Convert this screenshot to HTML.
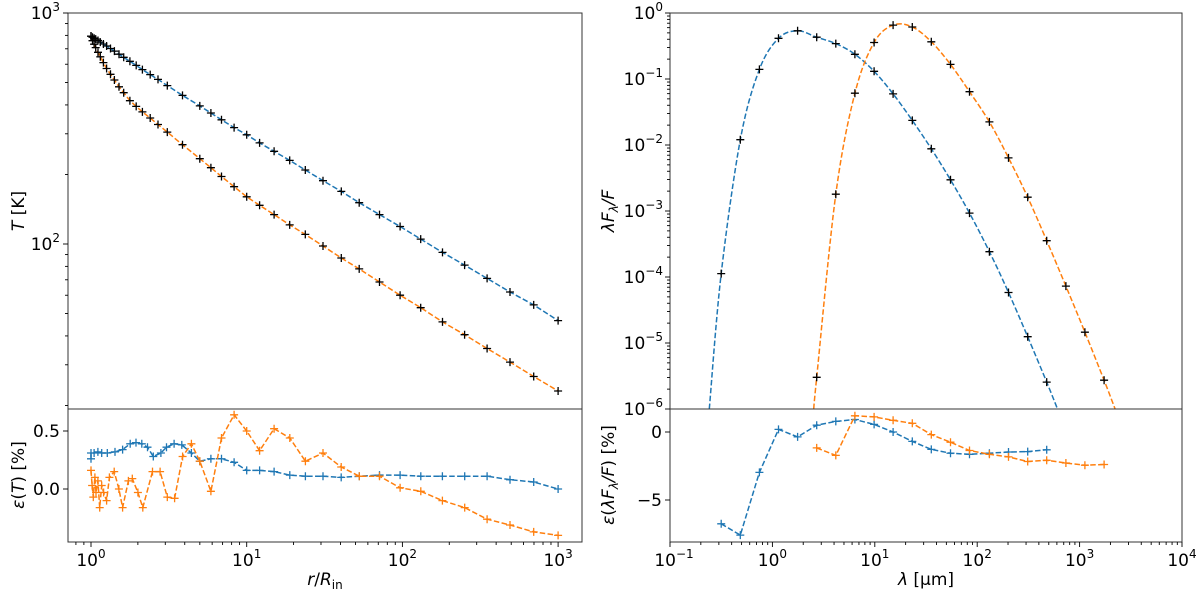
<!DOCTYPE html>
<html><head><meta charset="utf-8">
<style>
html,body{margin:0;padding:0;background:#fff;}
svg{display:block;font-family:"DejaVu Sans","Liberation Sans",sans-serif;}
</style></head>
<body>
<svg id="fig" width="1200" height="594" viewBox="0 0 1200 594" xmlns="http://www.w3.org/2000/svg"></svg>
<script>
// ---------- data: left (temperature) ----------
const rVals = [1,1.023,1.047,1.072,1.109,1.148,1.202,1.259,1.334,1.413,1.514,1.622,1.778,1.950,2.138,2.399,2.692,3.09,3.87,5.00,5.89,6.89,8.30,10,12.1,15.0,18.9,23.8,30.9,40.5,52.8,71.3,96.6,131,181,251,350,491,697,1000];
const tBlue = [794,786,778,771,760,748,734,720,702,684,663,643,618,593,569,541,516,485,440,396,369,345,319,297,274,252,230,209,188,169,151,134,119,105,92,81,71,62,54.5,46.6];
const tOrange = [794,759,733,708,676,646,610,575,543,513,479,452,417,394,373,351,329,305,269,234,214,196,177,160,147,134,121,110,98,87,78,68.5,60,53,46,40.5,35.3,30.8,26.7,23.1];
// error panel (left): log10(r) and epsilon [%]
const errBlueLogR = [0,0,0.02,0.044,0.069,0.105,0.154,0.203,0.252,0.289,0.326,0.363,0.400,0.449,0.485,0.534,0.583,0.645,0.699,0.770,0.838,0.919,1.0,1.083,1.176,1.277,1.377,1.490,1.607,1.723,1.853,1.985,2.118,2.257,2.400,2.544,2.691,2.843,3.0];
const errBlue = [0.26,0.31,0.31,0.32,0.31,0.31,0.32,0.34,0.39,0.40,0.39,0.36,0.28,0.31,0.36,0.39,0.38,0.31,0.24,0.26,0.26,0.23,0.16,0.16,0.15,0.12,0.11,0.11,0.10,0.11,0.12,0.12,0.11,0.11,0.11,0.11,0.08,0.06,0.0];
const errOrangeLogR = [0,0.007,0.015,0.025,0.032,0.044,0.056,0.069,0.081,0.100,0.118,0.149,0.179,0.203,0.240,0.265,0.301,0.333,0.395,0.444,0.490,0.537,0.588,0.645,0.699,0.770,0.838,0.919,1.0,1.083,1.176,1.277,1.377,1.490,1.607,1.723,1.853,1.985,2.118,2.257,2.400,2.544,2.691,2.843,3.0];
const errOrange = [0.16,0.03,-0.07,0.10,-0.03,0.07,-0.16,0.03,-0.03,-0.10,0.10,0.15,0.0,-0.16,0.07,0.09,-0.03,-0.16,0.15,0.15,-0.07,-0.08,0.28,0.39,0.24,-0.02,0.44,0.64,0.50,0.33,0.52,0.44,0.24,0.31,0.19,0.11,0.11,0.01,-0.02,-0.10,-0.16,-0.26,-0.31,-0.37,-0.40];
// ---------- data: right (SED) ----------
const lamBlueLog = [-0.5,-0.313,-0.127,0.06,0.246,0.433,0.619,0.806,0.993,1.179,1.366,1.552,1.739,1.925,2.119,2.306,2.493,2.679];
const sedBlueLog = [-3.948,-1.92,-0.854,-0.384,-0.269,-0.367,-0.464,-0.625,-0.883,-1.226,-1.628,-2.057,-2.527,-3.032,-3.616,-4.235,-4.905,-5.593];
const blueEnds = [-0.616,2.784];
const lamOrangeLog = [0.433,0.619,0.806,0.993,1.179,1.366,1.552,1.739,1.925,2.119,2.306,2.493,2.679,2.866,3.052,3.239];
const sedOrangeLog = [-5.519,-2.745,-1.215,-0.447,-0.183,-0.212,-0.436,-0.779,-1.192,-1.650,-2.195,-2.791,-3.450,-4.138,-4.837,-5.564];
const orangeEnds = [0.403,3.347];
const errSedBlue = [-6.75,-7.58,-2.97,0.19,-0.36,0.5,0.78,0.92,0.56,0,-0.69,-1.28,-1.56,-1.64,-1.56,-1.47,-1.44,-1.31];
const errSedOrange = [-1.17,-1.72,1.19,1.11,0.86,0.64,-0.19,-0.75,-1.36,-1.64,-1.83,-2.17,-2.08,-2.28,-2.44,-2.39];

const NS="http://www.w3.org/2000/svg";
const svg=document.getElementById('fig');
const BLUE="#1f77b4", ORANGE="#ff7f0e";
function mk(tag,attrs,parent){const e=document.createElementNS(NS,tag);for(const k in attrs)e.setAttribute(k,attrs[k]);(parent||svg).appendChild(e);return e;}

const L={x0:68,x1:582,yt:13,ym:409,yb:542};
const R={x0:670,x1:1182,yt:13,ym:409,yb:542};
const lx = lr => 91 + lr*155.7;
const ly = lt => 13 + (3-lt)*231;
const ley = v => 489 - v*116;
const rx = ll => 670 + (ll+1)*102.4;
const ry = lf => 13 - lf*66;
const rey = v => 432 - v*13.6;

function smoothPath(pts){
  if(pts.length<3) return 'M'+pts.map(p=>p[0].toFixed(1)+','+p[1].toFixed(1)).join('L');
  let d='M'+pts[0][0].toFixed(1)+','+pts[0][1].toFixed(1);
  for(let i=0;i<pts.length-1;i++){
    const p0=pts[i-1]||pts[i],p1=pts[i],p2=pts[i+1],p3=pts[i+2]||p2;
    const c1=[p1[0]+(p2[0]-p0[0])/6,p1[1]+(p2[1]-p0[1])/6];
    const c2=[p2[0]-(p3[0]-p1[0])/6,p2[1]-(p3[1]-p1[1])/6];
    d+=`C${c1[0].toFixed(1)},${c1[1].toFixed(1)} ${c2[0].toFixed(1)},${c2[1].toFixed(1)} ${p2[0].toFixed(1)},${p2[1].toFixed(1)}`;
  }
  return d;
}
function line(pts,color,name,parent,smooth){
  const d = smooth ? smoothPath(pts) : 'M'+pts.map(q=>q[0].toFixed(1)+','+q[1].toFixed(1)).join('L');
  const p=mk('path',{d:d,fill:'none',stroke:color,'stroke-width':1.5,'stroke-dasharray':'5.5,2.4'},parent);
  
  
}
function markers(pts,color,name,parent,sz){
  const g=mk('g',{},parent);
  
  
  const s=sz||4;
  pts.forEach(q=>{
    const m=mk('path',{d:`M${(q[0]-s).toFixed(1)},${q[1].toFixed(1)}h${2*s}M${q[0].toFixed(1)},${(q[1]-s).toFixed(1)}v${2*s}`,stroke:color,'stroke-width':1.3},g);
    
    
  });
}
function text(x,y,str,anchor,size,name,extra){
  const t=mk('text',Object.assign({x:x,y:y,'text-anchor':anchor||'middle','font-size':size||17,fill:'#000'},extra||{}));
  t.innerHTML=str;
  
  
  return t;
}
function pow10(x,y,e,anchor,name){
  const es = e<0 ? '\u2212'+(-e) : ''+e;
  return text(x,y,`10<tspan dy="-8" font-size="12">${es}</tspan>`,anchor,17,name);
}
function clip(id,a,yt,yb){const c=mk('clipPath',{id:id});mk('rect',{x:a.x0,y:yt,width:a.x1-a.x0,height:yb-yt},c);}

clip('cL1',L,L.yt,L.ym);clip('cL2',L,L.ym,L.yb);clip('cR1',R,R.yt,R.ym);clip('cR2',R,R.ym,R.yb);

const gL1=mk('g',{'clip-path':'url(#cL1)'});
const bPts=rVals.map((r,i)=>[lx(Math.log10(r)),ly(Math.log10(tBlue[i]))]);
const oPts=rVals.map((r,i)=>[lx(Math.log10(r)),ly(Math.log10(tOrange[i]))]);
line(bPts,BLUE,'temperature-blue-line',gL1);line(oPts,ORANGE,'temperature-orange-line',gL1);
markers(bPts,'#000','temperature-blue-markers',gL1);markers(oPts,'#000','temperature-orange-markers',gL1);

const gL2=mk('g',{'clip-path':'url(#cL2)'});
const ebPts=errBlueLogR.map((l,i)=>[lx(l),ley(errBlue[i])]);
const eoPts=errOrangeLogR.map((l,i)=>[lx(l),ley(errOrange[i])]);
line(ebPts,BLUE,'temperature-error-blue-line',gL2);markers(ebPts,BLUE,'temperature-error-blue-markers',gL2);
line(eoPts,ORANGE,'temperature-error-orange-line',gL2);markers(eoPts,ORANGE,'temperature-error-orange-markers',gL2);

const gR1=mk('g',{'clip-path':'url(#cR1)'});
const sbPts=lamBlueLog.map((l,i)=>[rx(l),ry(sedBlueLog[i])]);
const soPts=lamOrangeLog.map((l,i)=>[rx(l),ry(sedOrangeLog[i])]);
line([[rx(blueEnds[0]),ry(-6)]].concat(sbPts,[[rx(blueEnds[1]),ry(-6)]]),BLUE,'sed-blue-line',gR1,true);
line([[rx(orangeEnds[0]),ry(-6)]].concat(soPts,[[rx(orangeEnds[1]),ry(-6)]]),ORANGE,'sed-orange-line',gR1,true);
markers(sbPts,'#000','sed-blue-markers',gR1);markers(soPts,'#000','sed-orange-markers',gR1);

const gR2=mk('g',{'clip-path':'url(#cR2)'});
const esb=lamBlueLog.map((l,i)=>[rx(l),rey(errSedBlue[i])]);
const eso=lamOrangeLog.map((l,i)=>[rx(l),rey(errSedOrange[i])]);
line(esb,BLUE,'sed-error-blue-line',gR2);markers(esb,BLUE,'sed-error-blue-markers',gR2);
line(eso,ORANGE,'sed-error-orange-line',gR2);markers(eso,ORANGE,'sed-error-orange-markers',gR2);

[L,R].forEach((a,k)=>{
  const f1=mk('rect',{x:a.x0,y:a.yt,width:a.x1-a.x0,height:a.ym-a.yt,fill:'none',stroke:'#333','stroke-width':1});
  
  const f2=mk('rect',{x:a.x0,y:a.ym,width:a.x1-a.x0,height:a.yb-a.ym,fill:'none',stroke:'#333','stroke-width':1});
  
});
function tick(x1,y1,x2,y2){mk('line',{x1:x1,y1:y1,x2:x2,y2:y2,stroke:'#000','stroke-width':0.9});}
for(let d=-1;d<=3;d++){for(let m=1;m<10;m++){const x=lx(d+Math.log10(m));if(x<L.x0||x>L.x1)continue;tick(x,L.yb,x,L.yb+(m==1?5:3));}}
for(let d=0;d<=3;d++)pow10(lx(d),L.yb+24,d,'middle','x-tick-label-left');
for(let d=1;d<=2;d++){for(let m=1;m<10;m++){const y=ly(d+Math.log10(m));if(y<L.yt-0.5||y>L.ym)continue;tick(L.x0,y,L.x0-(m==1?5:3),y);}}
tick(L.x0,ly(3),L.x0-5,ly(3));
pow10(L.x0-8,ly(3)+6,3,'end','y-tick-label');pow10(L.x0-8,ly(2)+6,2,'end','y-tick-label');
[0,0.5].forEach(v=>{tick(L.x0,ley(v),L.x0-5,ley(v));text(L.x0-8,ley(v)+6,v.toFixed(1),'end',17,'y-tick-label');});
for(let d=-1;d<=4;d++){for(let m=1;m<10;m++){const x=rx(d+Math.log10(m));if(x<R.x0-0.5||x>R.x1+0.5)continue;tick(x,R.yb,x,R.yb+(m==1?5:3));}}
for(let d=-1;d<=4;d++)pow10(rx(d)+(d<0?4:0),R.yb+24,d,'middle','x-tick-label-right');
for(let d=-6;d<=0;d++){for(let m=1;m<10;m++){const y=ry(d+Math.log10(m));if(y<R.yt-0.5||y>R.ym+0.5)continue;tick(R.x0,y,R.x0-(m==1?5:3),y);}}
for(let d=-6;d<=0;d++)pow10(R.x0-7,ry(d)+6,d,'end','y-tick-label-sed');
[0,-5].forEach(v=>{tick(R.x0,rey(v),R.x0-5,rey(v));text(R.x0-8,rey(v)+6,v<0?'\u2212'+(-v):''+v,'end',17,'y-tick-label');});

text(24,211,'<tspan font-style="italic">T</tspan> [K]','middle',17,'y-axis-title-temperature',{transform:'rotate(-90 24 211)'});
text(24,475,'<tspan font-style="italic">ε</tspan>(<tspan font-style="italic">T</tspan>) [%]','middle',17,'y-axis-title-temperature-error',{transform:'rotate(-90 24 475)'});
text(325,585,'<tspan font-style="italic">r</tspan>/<tspan font-style="italic">R</tspan><tspan font-size="12" dy="4">in</tspan>','middle',17,'x-axis-title-radius');
text(614,211,'<tspan font-style="italic">λF</tspan><tspan font-size="12" font-style="italic" dy="4">λ</tspan><tspan dy="-4" font-style="italic">/F</tspan>','middle',17,'y-axis-title-sed',{transform:'rotate(-90 614 211)'});
text(614,475,'<tspan font-style="italic">ε</tspan>(<tspan font-style="italic">λF</tspan><tspan font-size="12" font-style="italic" dy="4">λ</tspan><tspan dy="-4" font-style="italic">/F</tspan>) [%]','middle',17,'y-axis-title-sed-error',{transform:'rotate(-90 614 475)'});
text(926,585,'<tspan font-style="italic">λ</tspan> [μm]','middle',17,'x-axis-title-wavelength');
</script>
</body></html>
